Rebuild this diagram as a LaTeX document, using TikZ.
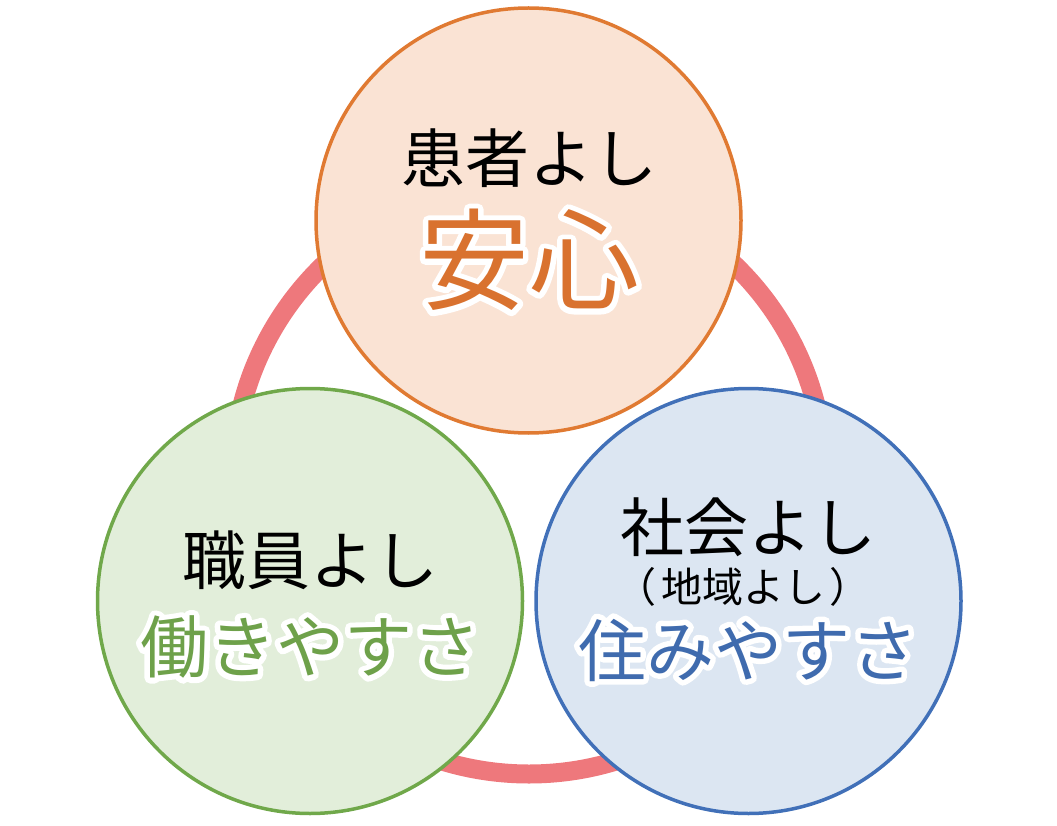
\documentclass[tikz,border=0pt]{standalone}
\usepackage{fontspec}
\newfontfamily\jp{Noto Sans CJK JP}
\definecolor{ringc}{HTML}{EE787C}
\definecolor{topfill}{HTML}{FAE3D4}
\definecolor{topline}{HTML}{E07A32}
\definecolor{toptext}{HTML}{D9722F}
\definecolor{leftfill}{HTML}{E2EEDA}
\definecolor{leftline}{HTML}{70A84A}
\definecolor{lefttext}{HTML}{6EA14A}
\definecolor{rightfill}{HTML}{DCE6F2}
\definecolor{rightline}{HTML}{4170B8}
\definecolor{righttext}{HTML}{3F6BAE}
% white outline behind coloured text (text render mode 1 = stroke)
\newcommand\haloed[1]{\rlap{\color{white}\special{pdf:literal direct 1 Tr 11 w 1 j}#1\special{pdf:literal direct 0 Tr}}#1}
\tikzset{
  bubble/.style={circle, line width=3.5pt, minimum size=425pt, inner sep=0pt},
  ringstyle/.style={circle, draw=ringc, line width=19pt, minimum size=592pt, inner sep=0pt},
  plain/.style={inner sep=0pt, text=black, font=\jp\fontsize{64}{64}\selectfont},
  big/.style={inner sep=0pt, text=#1, font=\jp\fontsize{68}{68}\selectfont},
}
\begin{document}
\begin{tikzpicture}[x=1pt,y=-1pt]
\useasboundingbox (0,0) rectangle (1057,826);
\node[ringstyle] (ring) at (529,478) {};
\node[bubble, fill=topfill, draw=topline] (top) at (528.5,220.5) {};
\node[bubble, fill=leftfill, draw=leftline] (left) at (310,601) {};
\node[bubble, fill=rightfill, draw=rightline] (right) at (748.5,601) {};
\node[plain] (t1) at (529,158) {患者よし};
\node[big=toptext, font=\jp\fontsize{110}{110}\selectfont] (t2) at (529,260) {\haloed{安心}};
\node[plain] (l1) at (310,560) {職員よし};
\node[big=lefttext] (l2) at (310,647) {\haloed{働きやすさ}};
\node[plain] (r1) at (748,527) {社会よし};
\node[plain, font=\jp\fontsize{41}{41}\selectfont] (r2) at (743,587) {（\hspace{0.1em}地域よし\hspace{0.1em}）};
\node[big=righttext] (r3) at (748,650) {\haloed{住みやすさ}};
\end{tikzpicture}
\end{document}
